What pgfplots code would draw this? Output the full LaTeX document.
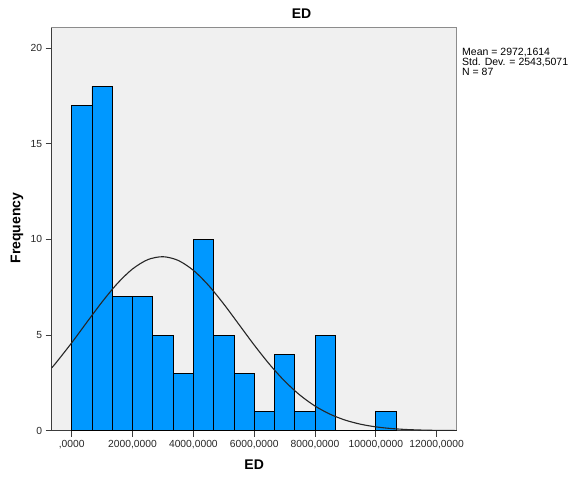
\documentclass[border=0pt]{standalone}
\usepackage{pgfplots}
\pgfplotsset{compat=1.18}
\usepackage{fontspec}
\setmainfont{Liberation Sans}

\definecolor{barblue}{RGB}{0,152,255}
\definecolor{plotbg}{RGB}{240,240,240}
\definecolor{framegray}{RGB}{140,140,140}
\definecolor{axisdark}{RGB}{60,60,60}

% Histogram of ED: bin width 2000/3, counts per bin (last point closes the interval)
\pgfplotstableread{
x         count
0         17
666.667   18
1333.333  7
2000      7
2666.667  5
3333.333  3
4000      10
4666.667  5
5333.333  3
6000      1
6666.667  4
7333.333  1
8000      5
8666.667  0
9333.333  0
10000     1
10666.667 0
}\histdata

% Fitted normal curve: N * binwidth * pdf(mean = 2972.1614, sd = 2543.5071)
\pgfplotstableread{
x      f
-658   3.285
-500   3.582
0      4.596
500    5.673
1000   6.735
1500   7.694
2000   8.456
2500   8.942
3000   9.096
3500   8.903
4000   8.384
4500   7.595
5000   6.620
5500   5.551
6000   4.479
6500   3.477
7000   2.596
7500   1.865
8000   1.289
8500   0.858
9000   0.549
9500   0.338
10000  0.200
10500  0.114
11000  0.0625
11500  0.033
12000  0.0167
12658  0.0065
}\normaldata

\begin{document}
\begin{tikzpicture}[x=1pt,y=1pt]
\path[use as bounding box] (0,0) rectangle (571,478);
\begin{axis}[
  at={(51.7pt,47.3pt)}, anchor=south west,
  scale only axis, width=405pt, height=403pt,
  xmin=-658, xmax=12658, ymin=0, ymax=21.07,
  axis background/.style={fill=plotbg, draw=framegray, line width=0.8pt},
  axis lines=left,
  axis line style={-, draw=axisdark, line width=0.9pt},
  xtick={0,2000,4000,6000,8000,10000,12000},
  xticklabels={{,0000},{2000,0000},{4000,0000},{6000,0000},{8000,0000},{10000,0000},{12000,0000}},
  scaled x ticks=false,
  ytick={0,5,10,15,20},
  tick align=outside,
  major tick length=6pt,
  tick style={draw=axisdark, line width=0.9pt},
  ticklabel style={font=\fontsize{10.3}{12}\selectfont, text=black!85},
  /pgf/number format/assume math mode=true,
  xlabel={ED},
  xlabel style={font=\bfseries\fontsize{14}{16}\selectfont, at={(axis description cs:0.5,0)}, anchor=base, yshift=-39pt},
  clip=true,
]
\addplot[ybar interval, fill=barblue, draw=black, line width=0.8pt] table[x=x, y=count] {\histdata};
\addplot[black!85, line width=1.1pt, smooth] table[x=x, y=f] {\normaldata};
\end{axis}
\node[font=\bfseries\fontsize{14}{16}\selectfont, anchor=base] at (301.5,459.5) {ED};
\node[font=\bfseries\fontsize{14}{16}\selectfont, rotate=90, anchor=center] at (17,250) {Frequency};
\node[font=\fontsize{10.5}{12}\selectfont, anchor=base west, inner sep=0pt] at (462,422.3) {Mean = 2972,1614};
\node[font=\fontsize{10.5}{12}\selectfont, anchor=base west, inner sep=0pt] at (462,412.3) {Std. Dev. = 2543,5071};
\node[font=\fontsize{10.5}{12}\selectfont, anchor=base west, inner sep=0pt] at (462,402.3) {N = 87};
\end{tikzpicture}
\end{document}
